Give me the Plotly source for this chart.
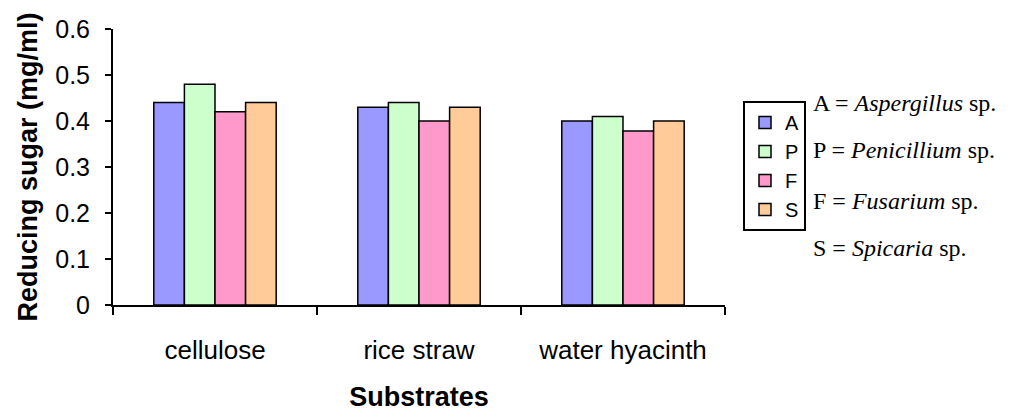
import plotly.graph_objects as go

substrates = ["cellulose", "rice straw", "water hyacinth"]
series_names = ["A", "P", "F", "S"]
vals_a = [0.44, 0.43, 0.40]
vals_p = [0.48, 0.44, 0.41]
vals_f = [0.42, 0.40, 0.378]
vals_s = [0.44, 0.43, 0.40]
colors = ["#9999FF", "#CCFFCC", "#FF99CC", "#FFCC99"]
species = ["Aspergillus", "Penicillium", "Fusarium", "Spicaria"]

fig = go.Figure()
for name, vals, col in zip(series_names, [vals_a, vals_p, vals_f, vals_s], colors):
    fig.add_trace(go.Bar(x=substrates, y=vals, name=name,
                         marker=dict(color=col, line=dict(color="black", width=1.5))))

# key text to the right of the legend
key_y = [103, 150, 201, 248]
for letter, sp, yy in zip(series_names, species, key_y):
    fig.add_annotation(text=f"{letter} = <i>{sp}</i> sp.", xref="paper", yref="paper",
                       x=(811 - 113) / 612, y=(305 - yy) / 276, xanchor="left", yanchor="middle",
                       showarrow=False, font=dict(family="Liberation Serif", size=24, color="black"))

fig.update_layout(
    width=1034, height=411,
    margin=dict(l=105, r=317, t=21, b=114),
    plot_bgcolor="white", paper_bgcolor="white",
    barmode="group", bargap=0.4, bargroupgap=0,
    font=dict(family="Liberation Sans, Arial", size=24, color="black"),
    legend=dict(x=(743 - 113) / 612, y=(305 - 101) / 276, xanchor="left", yanchor="top",
                bordercolor="black", borderwidth=2, font=dict(size=20),
                itemwidth=30, tracegroupgap=0),
    xaxis=dict(showline=True, linecolor="black", linewidth=2, ticks="outside",
               tickson="boundaries", ticklen=8, tickwidth=2, tickcolor="black",
               automargin=False, ticklabelstandoff=21, tickfont=dict(size=26),
               title=dict(text="<b>Substrates</b>", font=dict(size=27), standoff=23)),
    yaxis=dict(range=[0, 0.6], dtick=0.1, showline=True, linecolor="black", linewidth=2,
               ticks="outside", ticklen=6, tickwidth=2, tickcolor="black", showgrid=False,
               zeroline=False, automargin=False, ticklabelstandoff=10, tickfont=dict(size=25),
               title=dict(text="<b>Reducing sugar (mg/ml)</b>", font=dict(size=27), standoff=10)),
)

fig.write_html("out.html")
